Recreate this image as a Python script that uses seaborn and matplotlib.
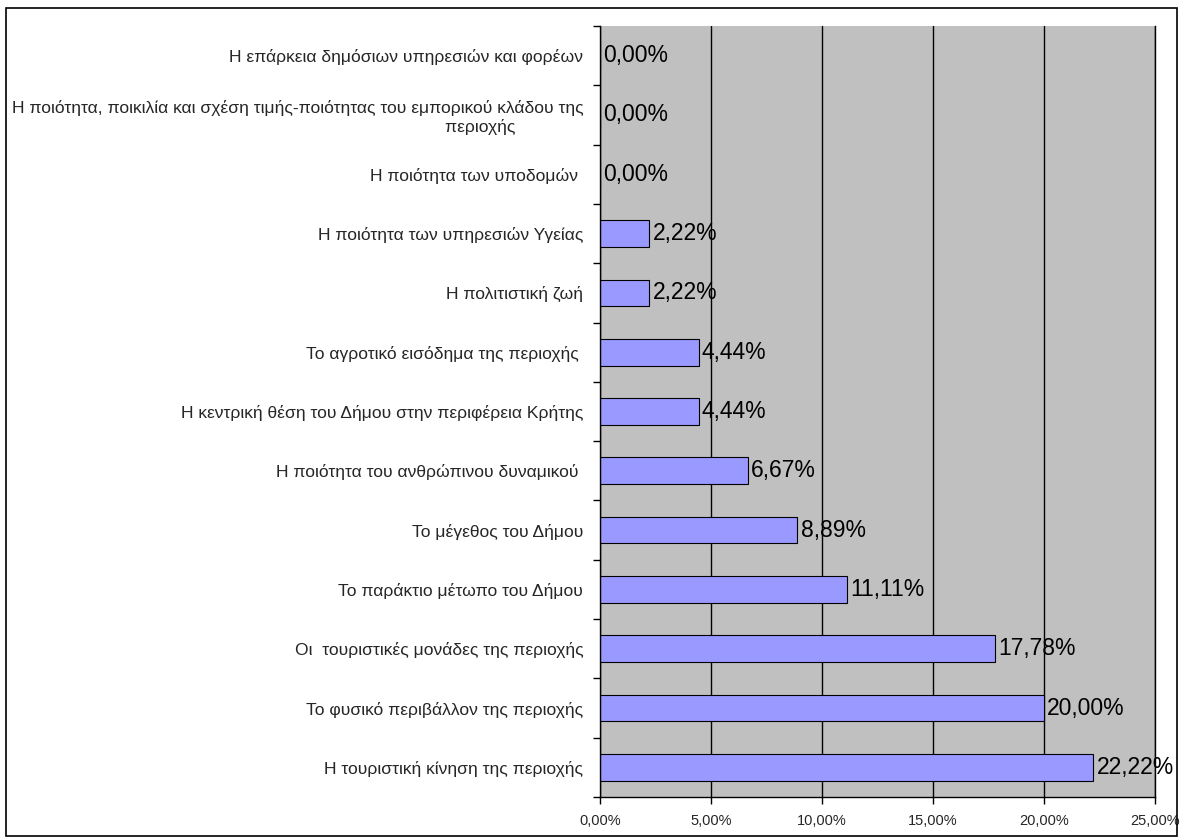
import numpy as np
import pandas as pd
import matplotlib
matplotlib.use('Agg')
import matplotlib.pyplot as plt
from matplotlib.patches import Rectangle
from matplotlib.ticker import FixedLocator, FuncFormatter
import seaborn as sns

# categories from top to bottom, as in the chart
labels = [
    'Η επάρκεια δημόσιων υπηρεσιών και φορέων',
    'Η ποιότητα, ποικιλία και σχέση τιμής-ποιότητας του εμπορικού κλάδου της\nπεριοχής              ',
    'Η ποιότητα των υποδομών ',
    'Η ποιότητα των υπηρεσιών Υγείας',
    'Η πολιτιστική ζωή',
    'Το αγροτικό εισόδημα της περιοχής ',
    'Η κεντρική θέση του Δήμου στην περιφέρεια Κρήτης',
    'Η ποιότητα του ανθρώπινου δυναμικού ',
    'Το μέγεθος του Δήμου',
    'Το παράκτιο μέτωπο του Δήμου',
    'Οι  τουριστικές μονάδες της περιοχής',
    'Το φυσικό περιβάλλον της περιοχής',
    'Η τουριστική κίνηση της περιοχής',
]
values = [0.00, 0.00, 0.00, 2.22, 2.22, 4.44, 4.44, 6.67, 8.89, 11.11, 17.78, 20.00, 22.22]
xticks = [0, 5, 10, 15, 20, 25]

df = pd.DataFrame({'label': labels, 'value': values})

sns.set_style('white')
plt.rcParams['font.family'] = ['Liberation Sans', 'DejaVu Sans']

fig = plt.figure(figsize=(11.81, 8.39), dpi=100)
ax = fig.add_axes([0.508, 0.050, 0.470, 0.919])
ax.set_facecolor('#C0C0C0')

sns.barplot(data=df, x='value', y='label', orient='h', color='#9999FF',
            saturation=1, edgecolor='black', linewidth=0.8, width=0.45, ax=ax)

ax.set_xlim(0, 25)
ax.set_ylim(len(labels) - 0.5, -0.5)
ax.set_xlabel('')
ax.set_ylabel('')

ax.xaxis.set_major_locator(FixedLocator(xticks))
ax.xaxis.set_major_formatter(FuncFormatter(lambda v, p: f'{v:.2f}%'.replace('.', ',')))
ax.tick_params(axis='x', direction='out', length=5, width=1, color='black',
               labelsize=10.5, pad=7, bottom=True)
ax.tick_params(axis='y', which='major', length=0, labelsize=12.6, pad=12)
ax.yaxis.set_minor_locator(FixedLocator(np.arange(-0.5, len(labels), 1)))
ax.tick_params(axis='y', which='minor', direction='out', length=5, width=1,
               color='black', left=True)
for t in ax.get_yticklabels():
    t.set_multialignment('right')

ax.set_axisbelow(True)
ax.grid(axis='x', color='black', linewidth=1)
ax.grid(axis='y', visible=False)
for s in ['left', 'bottom']:
    ax.spines[s].set_color('black')
    ax.spines[s].set_linewidth(1)
ax.spines['top'].set_visible(False)
ax.spines['right'].set_color('black')
ax.spines['right'].set_linewidth(1)

for i, v in enumerate(values):
    ax.text(v + 0.15, i, f'{v:.2f}%'.replace('.', ','), va='center', ha='left',
            fontsize=16.5, color='black', clip_on=False)

fig.patches.append(Rectangle((0.005, 0.003), 0.992, 0.987, transform=fig.transFigure,
                             fill=False, edgecolor='black', linewidth=1.2))

fig.savefig('out.png', dpi=100)
